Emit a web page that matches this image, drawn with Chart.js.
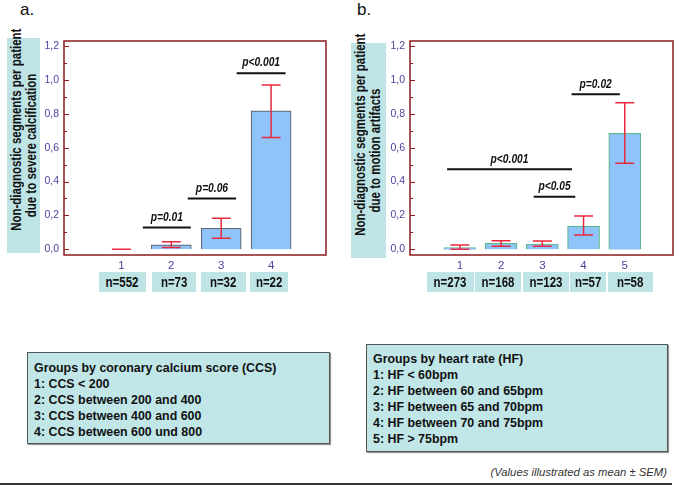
<!DOCTYPE html>
<html>
<head>
<meta charset="utf-8">
<script src="https://cdn.jsdelivr.net/npm/chart.js@4.4.1/dist/chart.umd.min.js"></script>
<style>
  html, body { margin: 0; padding: 0; background: #fff; }
  body { width: 686px; height: 489px; position: relative; overflow: hidden;
         font-family: 'Liberation Sans', Arial, sans-serif; }
  .nw { display: inline-block; transform: scaleX(0.82); white-space: nowrap; }
  .panel-letter { position: absolute; font-size: 17px; color: #111; }
  .ytitle { position: absolute; background: #bfe4e6; transform: rotate(-90deg); text-align: center;
            font-weight: bold; font-size: 14px; line-height: 15px; color: #111; box-sizing: border-box; padding-top: 2px; }
  .ytitle .nw { transform-origin: center; }
  .nbox { position: absolute; top: 272px; height: 20px; background: #bfe4e6; font-weight: bold;
          font-size: 14px; line-height: 20px; text-align: center; color: #111; }
  .nbox .nw { transform-origin: center; }
  .legend { position: absolute; background: #c0e6e8; border: 1px solid #555; box-shadow: 1px 1px 1px #999;
            font-weight: bold; font-size: 12.4px; line-height: 16px; color: #111; box-sizing: border-box; padding-left: 6px; }
  .legend div { white-space: nowrap; }
  .note { position: absolute; right: 19px; top: 466px; font-style: italic; font-size: 11.3px; color: #333; }
  .rule { position: absolute; left: 0; top: 483px; width: 672px; height: 2px; background: #333; }
  canvas { position: absolute; top: 0; }
</style>
</head>
<body>
<div class="panel-letter" style="left:20px;top:0px;">a.</div>
<div class="panel-letter" style="left:357px;top:0px;">b.</div>

<div class="ytitle" style="left:-84px;top:128.5px;width:215px;height:33px;"><span class="nw">Non-diagnostic segments per patient</span><br><span class="nw">due to severe calcification</span></div>
<div class="ytitle" style="left:261px;top:133px;width:215px;height:35px;"><span class="nw">Non-diagnostic segments per patient</span><br><span class="nw">due to motion artifacts</span></div>

<canvas id="chartA" width="340" height="280" style="left:0;"></canvas>
<canvas id="chartB" width="346" height="280" style="left:340px;"></canvas>

<div id="nboxes"></div>

<div class="legend" style="left:27px;top:352px;width:303px;height:92px;padding-top:7px;" id="legendA"></div>
<div class="legend" style="left:366px;top:344px;width:302px;height:108px;padding-top:6px;" id="legendB"></div>

<div class="note">(Values illustrated as mean ± SEM)</div>
<div class="rule"></div>

<script>
// Panel a: groups by coronary calcium score
const aCats = [1, 2, 3, 4];
const aMeans = [0, 0.026, 0.124, 0.817];
const aLow = [0, 0.01, 0.065, 0.66];
const aHigh = [0, 0.045, 0.183, 0.97];
const aN = ['n=552', 'n=73', 'n=32', 'n=22'];
const aSigFrom = [1.43, 2.33, 3.31];
const aSigTo = [2.39, 3.3, 4.29];
const aSigY = [0.128, 0.30, 1.04];
const aSigText = ['p=0.01', 'p=0.06', 'p<0.001'];
const aLegend = ['Groups by coronary calcium score (CCS)', '1: CCS < 200', '2: CCS between 200 and 400',
                 '3: CCS between 400 and 600', '4: CCS between 600 und 800'];

// Panel b: groups by heart rate
const bCats = [1, 2, 3, 4, 5];
const bMeans = [0.01, 0.035, 0.031, 0.137, 0.685];
const bLow = [0.0, 0.018, 0.017, 0.084, 0.508];
const bHigh = [0.025, 0.05, 0.048, 0.197, 0.865];
const bN = ['n=273', 'n=168', 'n=123', 'n=57', 'n=58'];
const bSigFrom = [0.69, 2.79, 3.71];
const bSigTo = [3.72, 3.80, 4.88];
const bSigY = [0.472, 0.31, 0.915];
const bSigText = ['p<0.001', 'p<0.05', 'p=0.02'];
const bLegend = ['Groups by heart rate (HF)', '1: HF < 60bpm', '2: HF between 60 and 65bpm',
                 '3: HF between 65 and 70bpm', '4: HF between 70 and 75bpm', '5: HF > 75bpm'];

const yTicks = [0, 0.1, 0.2, 0.3, 0.4, 0.5, 0.6, 0.7, 0.8, 0.9, 1.0, 1.1, 1.2];

const FONT = "'Liberation Sans', Arial, sans-serif";
const BOX_RED = '#8b1c1c';
const TICK_BLUE = '#4a44a0';
const ERR_RED = '#e8283f';

// draws frame, inward y ticks, error bars and the p-value labels
const panelPlugin = {
    id: 'panelExtras',
    afterDatasetsDraw(chart) {
        const o = chart.options.plugins.panelExtras;
        const x = chart.scales.x, y = chart.scales.y;
        const ctx = chart.ctx;
        ctx.save();
        ctx.strokeStyle = ERR_RED;
        ctx.lineWidth = 1.5;
        o.cats.forEach((c, i) => {
            const px = x.getPixelForValue(c);
            const lo = y.getPixelForValue(o.low[i]);
            const hi = y.getPixelForValue(o.high[i]);
            ctx.beginPath();
            ctx.moveTo(px, lo); ctx.lineTo(px, hi);
            ctx.moveTo(px - 9.5, lo); ctx.lineTo(px + 9.5, lo);
            ctx.moveTo(px - 9.5, hi); ctx.lineTo(px + 9.5, hi);
            ctx.stroke();
        });
        ctx.restore();
    },
    afterDraw(chart) {
        const o = chart.options.plugins.panelExtras;
        const a = chart.chartArea;
        const x = chart.scales.x, y = chart.scales.y;
        const ctx = chart.ctx;
        ctx.save();
        ctx.strokeStyle = BOX_RED;
        ctx.lineWidth = 1.5;
        ctx.strokeRect(a.left, a.top, a.right - a.left, a.bottom - a.top);
        // inward ticks on the left axis
        ctx.lineWidth = 1;
        yTicks.forEach((v, i) => {
            const py = Math.round(y.getPixelForValue(v)) + 0.5;
            const len = i % 2 === 0 ? 5 : 3;
            ctx.beginPath();
            ctx.moveTo(a.left, py); ctx.lineTo(a.left + len, py);
            ctx.stroke();
        });
        // p-value labels, condensed like the original
        ctx.fillStyle = '#111';
        ctx.font = 'italic bold 12.5px ' + FONT;
        ctx.textAlign = 'center';
        ctx.textBaseline = 'bottom';
        o.sigText.forEach((t, i) => {
            const mid = x.getPixelForValue((o.sigFrom[i] + o.sigTo[i]) / 2);
            ctx.save();
            ctx.translate(mid, y.getPixelForValue(o.sigY[i]) - 4);
            ctx.scale(0.82, 1);
            ctx.fillText(t, 0, 0);
            ctx.restore();
        });
        ctx.restore();
    }
};

function makePanel(id, p) {
    const datasets = [{
        type: 'bar',
        data: p.cats.map((c, i) => ({ x: c, y: p.means[i] })),
        backgroundColor: '#8fc4fb',
        borderColor: p.barBorder,
        borderWidth: 1.2,
        barThickness: p.barWidth,
        order: 2
    }];
    p.sigText.forEach((t, i) => {
        datasets.push({
            type: 'line',
            data: [{ x: p.sigFrom[i], y: p.sigY[i] }, { x: p.sigTo[i], y: p.sigY[i] }],
            borderColor: '#111',
            borderWidth: 2,
            pointRadius: 0,
            order: 1
        });
    });

    return new Chart(document.getElementById(id), {
        type: 'bar',
        data: { datasets: datasets },
        plugins: [panelPlugin],
        options: {
            responsive: false,
            animation: false,
            layout: { padding: { top: 41, right: p.padRight, left: 0, bottom: 0 } },
            plugins: {
                legend: { display: false },
                tooltip: { enabled: false },
                panelExtras: {
                    cats: p.cats, low: p.low, high: p.high,
                    sigFrom: p.sigFrom, sigTo: p.sigTo, sigY: p.sigY, sigText: p.sigText
                }
            },
            scales: {
                x: {
                    type: 'linear',
                    min: p.xMin, max: p.xMax,
                    offset: false,
                    grid: { display: false, drawTicks: false },
                    border: { display: false },
                    afterBuildTicks: s => { s.ticks = p.cats.map(v => ({ value: v })); },
                    afterFit: s => { s.height = 25; },
                    ticks: {
                        padding: 4,
                        color: TICK_BLUE,
                        font: { family: FONT, size: 11.5 },
                        callback: v => String(v)
                    }
                },
                y: {
                    min: -0.034, max: 1.23,
                    grid: { display: false, drawTicks: false },
                    border: { display: false },
                    afterBuildTicks: s => { s.ticks = yTicks.filter((v, i) => i % 2 === 0).map(v => ({ value: v })); },
                    afterFit: s => { s.width = p.yWidth; },
                    ticks: {
                        padding: 5,
                        color: TICK_BLUE,
                        font: { family: FONT, size: 10.5 },
                        callback: v => v.toFixed(1).replace('.', ',')
                    }
                }
            }
        }
    });
}

const chartA = makePanel('chartA', {
    cats: aCats, means: aMeans, low: aLow, high: aHigh,
    sigFrom: aSigFrom, sigTo: aSigTo, sigY: aSigY, sigText: aSigText,
    xMin: -0.15, xMax: 5.1, yWidth: 64, padRight: 14, barWidth: 40, barBorder: '#5d6877'
});
const chartB = makePanel('chartB', {
    cats: bCats, means: bMeans, low: bLow, high: bHigh,
    sigFrom: bSigFrom, sigTo: bSigTo, sigY: bSigY, sigText: bSigText,
    xMin: -0.21, xMax: 6.17, yWidth: 70, padRight: 13, barWidth: 32, barBorder: '#5cb88a'
});

// n= boxes under each panel
const nWrap = document.getElementById('nboxes');
const aBoxes = [[99, 146], [152, 196], [201, 246], [250, 288]];
const bBoxes = [[427, 474], [475, 521], [523, 569], [570, 606], [608, 653]];
function esc(s) { return s.replace(/</g, '&lt;').replace(/>/g, '&gt;'); }
function addBoxes(labels, spans) {
    labels.forEach((t, i) => {
        const d = document.createElement('div');
        d.className = 'nbox';
        d.style.left = spans[i][0] + 'px';
        d.style.width = (spans[i][1] - spans[i][0]) + 'px';
        d.innerHTML = '<span class="nw">' + esc(t) + '</span>';
        nWrap.appendChild(d);
    });
}
addBoxes(aN, aBoxes);
addBoxes(bN, bBoxes);

document.getElementById('legendA').innerHTML = aLegend.map(s => '<div>' + esc(s) + '</div>').join('');
document.getElementById('legendB').innerHTML = bLegend.map(s => '<div>' + esc(s) + '</div>').join('');
</script>
</body>
</html>
